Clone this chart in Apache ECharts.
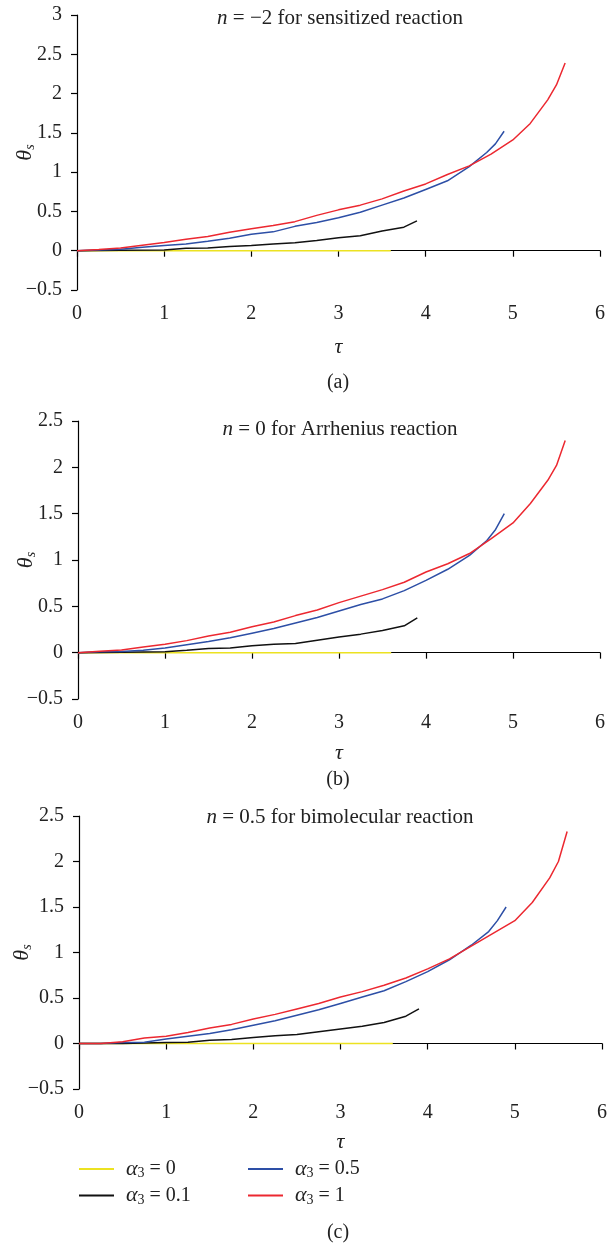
<!DOCTYPE html>
<html>
<head>
<meta charset="utf-8">
<script src="https://cdn.jsdelivr.net/npm/echarts@6/dist/echarts.min.js"></script>
<style>
  html, body { margin: 0; padding: 0; background: #fff; }
  #chart { width: 610px; height: 1245px; }
</style>
</head>
<body>
<div id="chart"></div>
<script>
// tau grids shared by the three panels
const tauYellow = [0, 3.6];
const tauBlack = [0, 0.5, 1, 1.25, 1.5, 1.75, 2, 2.25, 2.5, 2.75, 3, 3.25, 3.5, 3.75, 3.9];
const tauBlue = [0, 0.25, 0.5, 0.75, 1, 1.25, 1.5, 1.75, 2, 2.25, 2.5, 2.75, 3, 3.25, 3.5, 3.75, 4, 4.25, 4.5, 4.7, 4.8, 4.9];
const tauRed = [0, 0.25, 0.5, 0.75, 1, 1.25, 1.5, 1.75, 2, 2.25, 2.5, 2.75, 3, 3.25, 3.5, 3.75, 4, 4.25, 4.5, 4.75, 5, 5.2, 5.4, 5.5, 5.6];

const yellowAll = [0, 0];

// (a) n = -2
const blackA = [0, 0.005, 0.01, 0.03, 0.035, 0.055, 0.065, 0.085, 0.10, 0.13, 0.165, 0.19, 0.25, 0.30, 0.38];
const blueA = [0, 0.01, 0.02, 0.045, 0.066, 0.085, 0.12, 0.16, 0.21, 0.24, 0.31, 0.36, 0.42, 0.49, 0.58, 0.67, 0.78, 0.89, 1.07, 1.25, 1.36, 1.52];
const redA = [0, 0.015, 0.034, 0.07, 0.105, 0.145, 0.18, 0.235, 0.28, 0.32, 0.37, 0.45, 0.52, 0.58, 0.66, 0.76, 0.85, 0.97, 1.08, 1.23, 1.41, 1.62, 1.92, 2.11, 2.39];

// (b) n = 0
const blackB = [0, 0.005, 0.01, 0.025, 0.045, 0.05, 0.075, 0.09, 0.10, 0.135, 0.17, 0.20, 0.24, 0.29, 0.376];
const blueB = [0, 0.01, 0.012, 0.025, 0.05, 0.085, 0.12, 0.16, 0.21, 0.26, 0.32, 0.38, 0.45, 0.52, 0.58, 0.67, 0.78, 0.90, 1.05, 1.21, 1.33, 1.50];
const redB = [0, 0.015, 0.03, 0.06, 0.09, 0.13, 0.18, 0.22, 0.28, 0.33, 0.40, 0.46, 0.54, 0.61, 0.68, 0.76, 0.87, 0.96, 1.07, 1.23, 1.40, 1.61, 1.86, 2.02, 2.29];

// (c) n = 0.5
const blackC = [0, 0, 0.01, 0.015, 0.035, 0.045, 0.065, 0.085, 0.10, 0.13, 0.16, 0.19, 0.23, 0.30, 0.38];
const blueC = [0, 0, 0.01, 0.015, 0.05, 0.08, 0.11, 0.15, 0.20, 0.25, 0.31, 0.37, 0.44, 0.51, 0.58, 0.68, 0.79, 0.92, 1.08, 1.23, 1.35, 1.50];
const redC = [0, 0, 0.02, 0.06, 0.08, 0.12, 0.17, 0.21, 0.27, 0.32, 0.38, 0.44, 0.51, 0.57, 0.64, 0.72, 0.82, 0.93, 1.07, 1.21, 1.35, 1.55, 1.82, 2.0, 2.33];

const xTicks = [0, 6, 1];
const yRangeA = [-0.5, 3, 0.5];
const yRangeBC = [-0.5, 2.5, 0.5];

const seriesNames = ['α3 = 0', 'α3 = 0.1', 'α3 = 0.5', 'α3 = 1'];
const seriesColors = ['#ece221', '#111111', '#2d4fa6', '#ec2830'];

const titles = [
  '{i|n} = −2 for sensitized reaction',
  '{i|n} = 0 for Arrhenius reaction',
  '{i|n} = 0.5 for bimolecular reaction'
];
const captions = ['(a)', '(b)', '(c)'];

const FONT = 'Liberation Serif';

const zip = (xs, ys) => xs.map((x, i) => [x, ys[i]]);

const grids = [
  { left: 77, top: 15, width: 523, height: 275, outerBoundsMode: 'none' },
  { left: 78, top: 421, width: 522, height: 278, outerBoundsMode: 'none' },
  { left: 79, top: 816, width: 523, height: 273, outerBoundsMode: 'none' }
];

const axisLine = { lineStyle: { color: '#000', width: 1.2 } };
const axisTick = { inside: false, length: 6, lineStyle: { color: '#000', width: 1.2 } };
const axisLabel = {
  color: '#222', fontFamily: FONT, fontSize: 20, margin: 14,
  formatter: v => String(v).replace('-', '−')
};

const xAxes = grids.map((g, i) => ({
  type: 'value', gridIndex: i,
  min: xTicks[0], max: xTicks[1], interval: xTicks[2],
  name: 'τ', nameLocation: 'middle', nameGap: [46, 43, 42][i],
  nameTextStyle: { fontFamily: FONT, fontSize: 22, fontStyle: 'italic', color: '#222' },
  axisLine, axisTick, axisLabel, splitLine: { show: false }
}));

const yAxes = grids.map((g, i) => {
  const r = i === 0 ? yRangeA : yRangeBC;
  return {
    type: 'value', gridIndex: i,
    min: r[0], max: r[1], interval: r[2],
    name: '{t|θ}{s|s}', nameLocation: 'middle', nameGap: [40, 40, 45][i], nameRotate: 90,
    nameMoveOverlap: false,
    nameTextStyle: {
      rich: {
        t: { fontFamily: FONT, fontSize: 22, fontStyle: 'italic', color: '#222' },
        s: { fontFamily: FONT, fontSize: 14, fontStyle: 'italic', color: '#222', padding: [9, 0, 0, 0] }
      }
    },
    axisLine: { show: true, ...axisLine }, axisTick, axisLabel: { ...axisLabel, margin: 15 },
    splitLine: { show: false }
  };
});

const panels = [
  [blackA, blueA, redA],
  [blackB, blueB, redB],
  [blackC, blueC, redC]
];

const series = [];
panels.forEach((p, i) => {
  const sets = [zip(tauYellow, yellowAll), zip(tauBlack, p[0]), zip(tauBlue, p[1]), zip(tauRed, p[2])];
  sets.forEach((d, k) => {
    series.push({
      type: 'line', name: seriesNames[k], xAxisIndex: i, yAxisIndex: i,
      data: d, showSymbol: false, color: seriesColors[k],
      lineStyle: { width: 1.5, color: seriesColors[k] }, z: 2 + k, animation: false
    });
  });
});

const legendRich = {
  a: { fontFamily: FONT, fontSize: 22, fontStyle: 'italic', color: '#222' },
  s: { fontFamily: FONT, fontSize: 14, color: '#222', padding: [9, 0, 0, 0] },
  t: { fontFamily: FONT, fontSize: 20, color: '#222' }
};
const legendFmt = name => {
  const parts = name.split(' = ');
  return '{a|α}{s|3}{t| = ' + parts[1] + '}';
};
const legendBase = {
  orient: 'vertical', itemWidth: 35, itemHeight: 2, icon: 'rect', itemGap: 4, padding: 0,
  formatter: legendFmt, textStyle: { rich: legendRich, padding: [0, 0, 0, 7] }
};

const graphic = [];
titles.forEach((t, i) => {
  graphic.push({
    type: 'text', x: 340, y: [18, 429, 817][i],
    style: {
      text: t, align: 'center', verticalAlign: 'middle',
      fontFamily: FONT, fontSize: 21, fill: '#222',
      rich: { i: { fontFamily: FONT, fontSize: 21, fontStyle: 'italic', fill: '#222' } }
    }
  });
  graphic.push({
    type: 'text', x: 338, y: [383, 780, 1233][i],
    style: { text: captions[i], align: 'center', verticalAlign: 'middle', fontFamily: FONT, fontSize: 20, fill: '#222' }
  });
});

const chart = echarts.init(document.getElementById('chart'));
chart.setOption({
  backgroundColor: '#fff',
  animation: false,
  grid: grids,
  xAxis: xAxes,
  yAxis: yAxes,
  series,
  legend: [
    { ...legendBase, left: 79, top: 1158, data: [seriesNames[0], seriesNames[1]] },
    { ...legendBase, left: 248, top: 1158, data: [seriesNames[2], seriesNames[3]] }
  ],
  graphic
});
</script>
</body>
</html>
